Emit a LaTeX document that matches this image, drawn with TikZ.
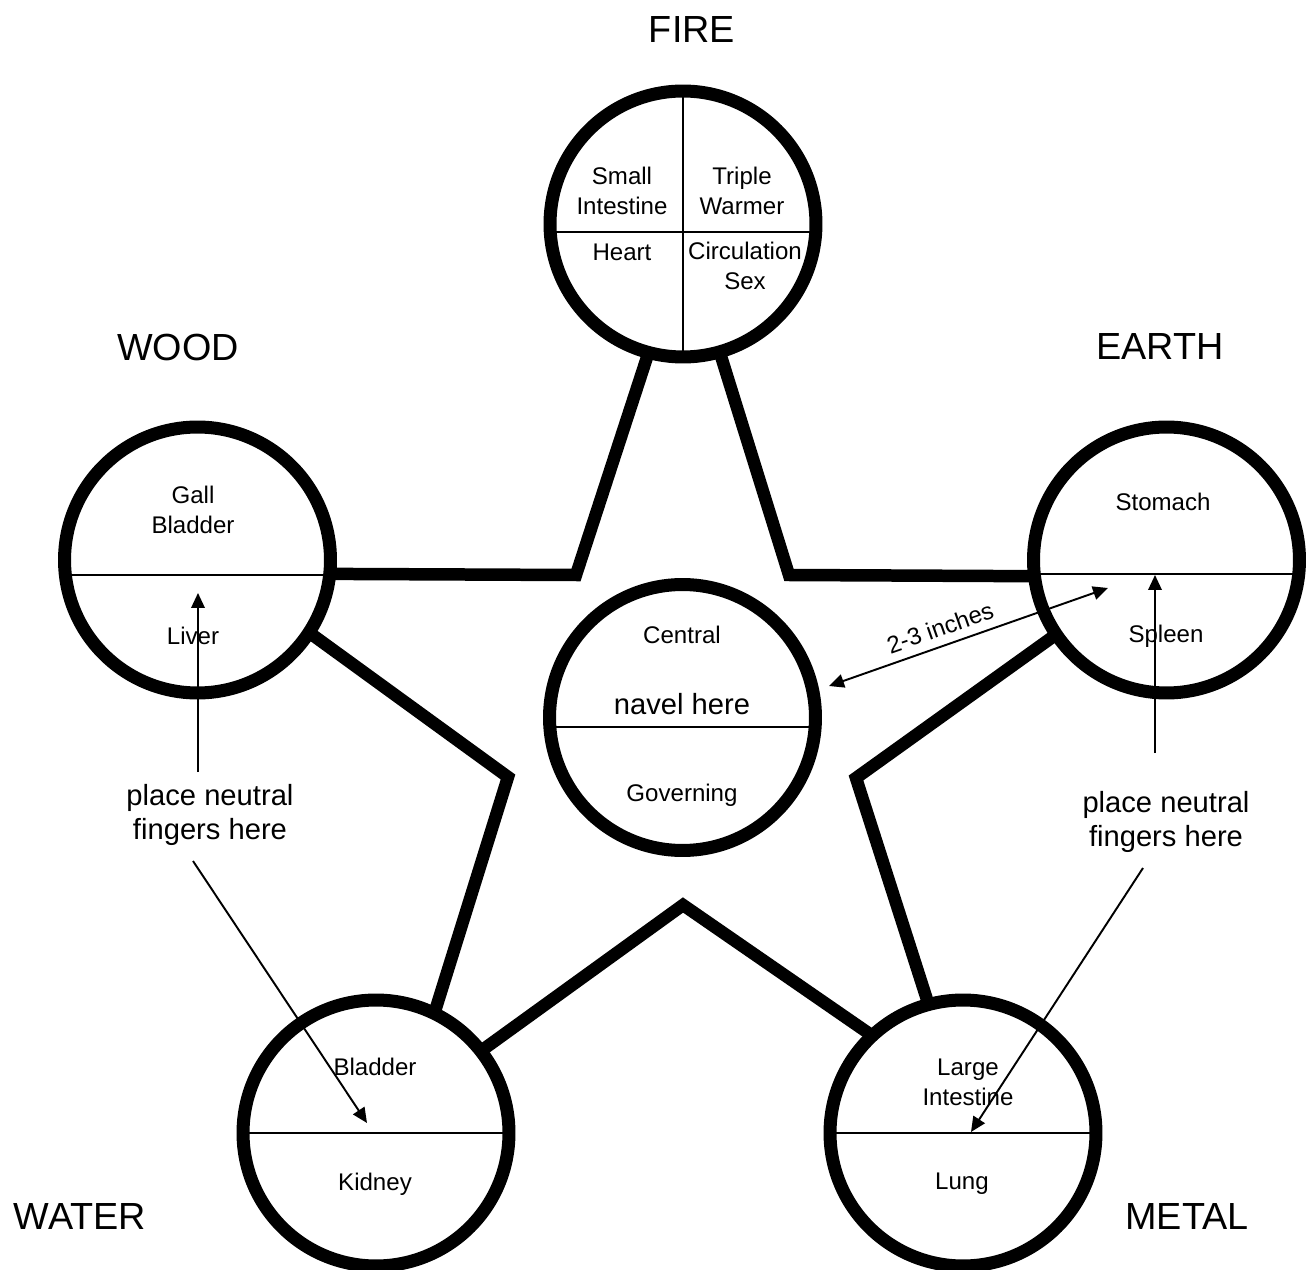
\documentclass[tikz,border=0pt]{standalone}
\usepackage{fontspec}
\setmainfont{Liberation Sans}
\usetikzlibrary{arrows.meta}
\begin{document}
\begin{tikzpicture}[x=0.02cm,y=-0.02cm,
  ring/.style={circle,draw,line width=0.26cm,minimum size=5.32cm,inner sep=0pt,outer sep=0pt},
  star/.style={line width=0.25cm,line join=miter},
  divider/.style={line width=0.7pt},
  pointer/.style={line width=1.1pt,-{Triangle[length=0.3cm,width=0.27cm]}},
  twoway/.style={line width=1.1pt,{Triangle[length=0.3cm,width=0.27cm]}-{Triangle[length=0.3cm,width=0.27cm]}},
  organ/.style={font=\fontsize{13.7}{17}\selectfont,align=center,inner sep=0pt},
  element/.style={font=\fontsize{21.5}{25}\selectfont,inner sep=0pt},
  note/.style={font=\fontsize{16.6}{19}\selectfont,align=center,inner sep=0pt},
]
\useasboundingbox (0,0) rectangle (1306,1270);

% rings
\node[ring] (fire) at (683,224) {};
\node[ring] (wood) at (197.5,560) {};
\node[ring] (earth) at (1166.5,560) {};
\node[ring] (central) at (682.5,717.5) {};
\node[ring] (water) at (376,1133) {};
\node[ring] (metal) at (963,1133) {};

% star vertices
\coordinate (vul) at (576,575);
\coordinate (vur) at (789,575);
\coordinate (vl) at (508,777);
\coordinate (vr) at (856,778);
\coordinate (vb) at (683,905);

% star
\draw[star] (fire.-105.7) -- (vul) -- (wood.-6.1);
\draw[star] (fire.-74.7) -- (vur) -- (earth.-173.9);
\draw[star] (wood.-33) -- (vl) -- (water.64.9);
\draw[star] (earth.-146.2) -- (vr) -- (metal.105.2);
\draw[star] (water.38.4) -- (vb) -- (metal.133.8);

% dividers
\draw[divider] ([shift={(0,-133)}]fire.center) -- ([shift={(0,133)}]fire.center);
\draw[divider] ([shift={(-133,8)}]fire.center) -- ([shift={(133,8)}]fire.center);
\draw[divider] ([shift={(-137,15)}]wood.center) -- ([shift={(132,15)}]wood.center);
\draw[divider] ([shift={(-132,14)}]earth.center) -- ([shift={(132,14)}]earth.center);
\draw[divider] ([shift={(-133,9.5)}]central.center) -- ([shift={(133,9.5)}]central.center);
\draw[divider] (water.west) -- (water.east);
\draw[divider] (metal.west) -- (metal.east);

% element labels
\node[element] (lfire) at (692,30) {FIRE};
\node[element] (lwood) at (178,347) {WOOD};
\node[element] (learth) at (1160,347) {EARTH};
\node[element] (lwater) at (80,1217) {WATER};
\node[element] (lmetal) at (1187,1217) {METAL};

% organ labels
\node[organ] (si) at (622,191) {Small\\Intestine};
\node[organ] (tw) at (742,191) {Triple\\Warmer};
\node[organ] (ht) at (622,252) {Heart};
\node[organ] (cs) at (745,266) {Circulation\\Sex};
\node[organ] (gb) at (193,510) {Gall\\Bladder};
\node[organ] (lv) at (193,636) {Liver};
\node[organ] (st) at (1163,502) {Stomach};
\node[organ] (sp) at (1166,636) {Spleen};
\node[organ] (ce) at (682,635) {Central};
\node[note] (nv) at (682,704) {navel here};
\node[organ] (gv) at (682,795) {Governing};
\node[organ] (bl) at (375,1067) {Bladder};
\node[organ] (kd) at (375,1184) {Kidney};
\node[organ] (li) at (968,1082) {Large\\Intestine};
\node[organ] (lu) at (962,1184) {Lung};

% notes
\node[note] (nleft) at (210,815) {place neutral\\fingers here};
\node[note] (nright) at (1166,822) {place neutral\\fingers here};

% arrows
\coordinate (a1s) at (198,772);
\coordinate (a1e) at (198,593);
\coordinate (a2s) at (1155,753);
\coordinate (a2e) at (1155,575);
\coordinate (a3s) at (193,861);
\coordinate (a3e) at (367,1123);
\coordinate (a4s) at (1143,868);
\coordinate (a4e) at (971,1132);
\coordinate (a5s) at (829,686);
\coordinate (a5e) at (1108,588);
\draw[pointer] (a1s) -- (a1e);
\draw[pointer] (a2s) -- (a2e);
\draw[pointer] (a3s) -- (a3e);
\draw[pointer] (a4s) -- (a4e);
\draw[twoway] (a5s) -- node[organ,sloped,pos=0.42,above=0.17cm] (inch) {2-3 inches} (a5e);
\end{tikzpicture}
\end{document}
